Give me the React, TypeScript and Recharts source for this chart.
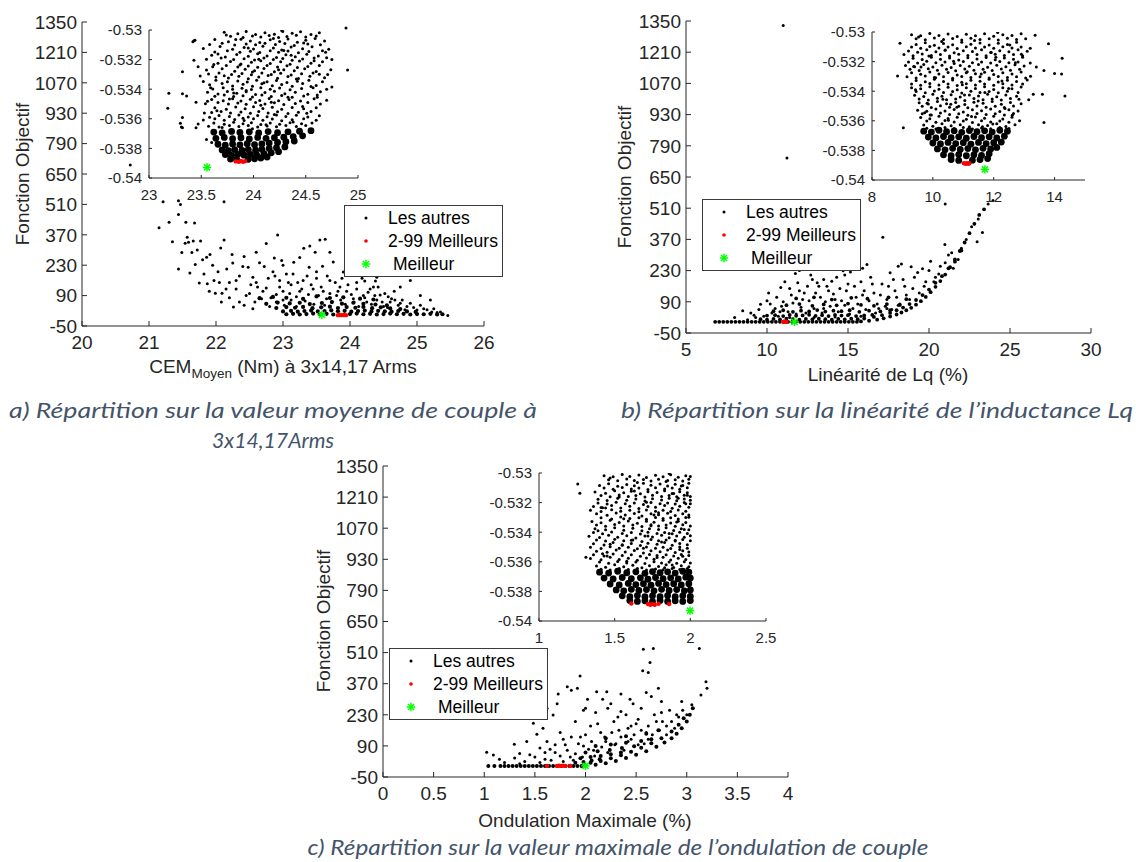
import React from 'react';
import { ScatterChart, Scatter, XAxis, YAxis } from 'recharts';

type Pt = [number, number];

const FONT = '"Liberation Sans", Arial, Helvetica, sans-serif';
const CAPFONT = 'Lato, "Open Sans", "Noto Sans", sans-serif';
const AX = '#262626';

// ---------- ticks & labels ----------
const mainYTicks = [-50, 90, 230, 370, 510, 650, 790, 930, 1070, 1210, 1350];
const insetYTicks = [-0.54, -0.538, -0.536, -0.534, -0.532, -0.53];
const aXTicks = [20, 21, 22, 23, 24, 25, 26];
const bXTicks = [5, 10, 15, 20, 25, 30];
const cXTicks = [0, 0.5, 1, 1.5, 2, 2.5, 3, 3.5, 4];
const aInsetXTicks = [23, 23.5, 24, 24.5, 25];
const bInsetXTicks = [8, 10, 12, 14];
const cInsetXTicks = [1, 1.5, 2, 2.5];
const legendLabels = ['Les autres', '2-99 Meilleurs', 'Meilleur'];
const yLabel = 'Fonction Objectif';
const captions = [
  'a) Répartition sur la valeur moyenne de couple à',
  '3x14,17Arms',
  'b) Répartition sur la linéarité de l’inductance Lq',
  'c) Répartition sur la valeur maximale de l’ondulation de couple',
];

// ---------- (a) main ----------
const aOthers: Pt[] = [
  [20.72, 691], [21.15, 403], [21.21, 522], [21.3, 428], [21.35, 338], [21.44, 527], [21.44, 464], [21.47, 510], [21.44, 212], [21.49, 289],
  [21.54, 331], [21.55, 428], [21.57, 359], [21.59, 336], [21.61, 194], [21.64, 289], [21.66, 341], [21.68, 424], [21.69, 233], [21.72, 300],
  [21.77, 341], [21.75, 148], [21.8, 255], [21.86, 267], [21.87, 145], [21.91, 279], [21.95, 230], [21.97, 159], [21.99, 101], [22.03, 200],
  [22.07, 309], [22.09, 101], [22.12, 346], [22.12, 522], [22.08, 60], [22.16, 212], [22.2, 150], [22.24, 279], [22.26, 37], [22.3, 120],
  [22.35, 180], [22.4, 224], [22.45, 90], [22.48, 220], [22.52, 140], [22.58, 60], [22.65, 241], [22.7, 110], [22.72, 224], [22.78, 170],
  [22.82, 80], [22.87, 263], [22.92, 369], [22.95, 130], [22.98, 252], [23.05, 190], [23.1, 100], [23.16, 244], [23.22, 150], [23.31, 308],
  [23.36, 180], [23.39, 220], [23.45, 120], [23.5, 200], [23.55, 346], [23.59, 225], [23.63, 350], [23.4, 318], [23.7, 160], [23.75, 245],
  [23.85, 130], [23.9, 199], [24.0, 185], [24.07, 208], [24.22, 157], [24.38, 157], [24.35, 130], [24.45, 93], [24.57, 85], [24.67, 70],
  [24.1, 150], [24.2, 90], [24.3, 120], [24.4, 70], [24.6, 60], [24.75, 55], [24.85, 40], [25.0, 24], [25.1, 30], [25.22, 15],
  [25.3, 12], [25.46, -2], [23.94, 1322], [22.55, 175], [22.62, 130], [22.9, 95], [23.0, 70], [23.2, 85], [23.28, 120], [23.6, 110],
  [23.8, 90], [23.65, 75], [23.95, 110], [24.05, 75], [24.25, 60], [24.5, 40], [24.15, 210], [23.0, 230], [22.3, 160], [22.42, 270],
  [22.88, 180], [23.12, 140],
];
const aOthersMore: Pt[] = [
  [22.35, 60], [22.42, 45], [22.5, 100], [22.55, 30], [22.6, 150], [22.68, 75], [22.75, 125], [22.8, 40], [22.85, 200], [22.9, 60],
  [22.95, 160], [23.0, 110], [23.02, 45], [23.08, 150], [23.12, 70], [23.15, 190], [23.2, 40], [23.25, 110], [23.3, 160], [23.33, 65],
  [23.38, 95], [23.42, 140], [23.46, 50], [23.5, 170], [23.53, 90], [23.57, 130], [23.62, 45], [23.66, 180], [23.7, 100], [23.73, 60],
  [23.78, 150], [23.82, 110], [23.86, 70], [23.88, 170], [23.93, 50], [23.97, 140], [24.02, 95], [24.06, 60], [24.1, 120], [24.13, 40],
  [24.18, 170], [24.22, 80], [24.27, 105], [24.32, 50], [24.37, 90], [24.42, 130], [24.48, 60], [24.52, 100], [24.56, 35], [24.62, 75],
  [24.66, 110], [24.72, 45], [24.78, 70], [24.82, 25], [24.9, 55], [24.95, 35], [25.05, 45], [25.15, 25], [25.25, 30], [25.35, 15],
  [22.2, 80], [22.15, 120], [22.05, 150], [21.9, 110], [21.82, 190], [22.25, 240], [22.6, 290], [22.75, 330], [23.25, 265], [23.48, 290],
  [23.7, 290], [24.28, 230], [24.55, 190], [24.9, 160], [25.05, 90], [25.2, 70], [24.4, 175], [24.75, 130],
];
const aDense: Pt[] = [
  [23.05, 4], [23.15, 6], [23.25, 3], [23.35, 5], [23.45, 7], [23.55, 4], [23.65, 6], [23.75, 3], [24.0, 5], [24.1, 7], [24.2, 4], [24.3, 6],
  [24.4, 3], [24.5, 5], [24.6, 7], [24.7, 4], [24.8, 6], [24.9, 3], [25.0, 5], [25.1, 4], [25.2, 6], [25.3, 3], [25.38, 4],
  [23.0, 17], [23.12, 20], [23.22, 16], [23.32, 19], [23.42, 21], [23.52, 17], [23.62, 19], [23.72, 22], [23.82, 18], [23.92, 20], [24.02, 16],
  [24.12, 19], [24.22, 21], [24.32, 17], [24.42, 20], [24.52, 18], [24.62, 16], [24.72, 19], [24.85, 17], [24.98, 15],
  [22.9, 33], [23.05, 37], [23.18, 34], [23.3, 38], [23.44, 32], [23.57, 36], [23.7, 39], [23.82, 33], [23.95, 37], [24.08, 34], [24.2, 38],
  [24.33, 32], [24.46, 36], [24.6, 31], [24.75, 28],
  [22.75, 52], [22.92, 58], [23.1, 54], [23.25, 57], [23.4, 51], [23.58, 56], [23.73, 60], [23.88, 53], [24.05, 57], [24.2, 52], [24.38, 49], [24.55, 45],
  [22.65, 78], [22.85, 84], [23.05, 80], [23.3, 75], [23.5, 86], [23.7, 79], [23.9, 82], [24.15, 76], [24.35, 72],
];
const aBest99: Pt[] = [[23.82, 0], [23.85, 1], [23.88, 0], [23.91, 1], [23.94, 0]];
const aBest: Pt[] = [[23.58, 1]];

// ---------- (a) inset ----------
const aInsetOthers: Pt[] = [
  [23.72, -0.53015], [23.85, -0.53025], [23.93, -0.5301], [24.02, -0.5303], [24.11, -0.53018], [24.2, -0.53028], [24.28, -0.5301], [24.37, -0.53022], [24.45, -0.53012], [24.55, -0.5303], [24.63, -0.53018],
  [23.43, -0.53072], [23.63, -0.53065], [23.76, -0.5308], [23.88, -0.53062], [23.97, -0.53075], [24.06, -0.53085], [24.16, -0.53066], [24.25, -0.53078], [24.33, -0.5306], [24.42, -0.53082], [24.5, -0.5307], [24.59, -0.53058], [24.68, -0.53074],
  [23.52, -0.53125], [23.68, -0.53112], [23.8, -0.5313], [23.91, -0.53118], [24.0, -0.53128], [24.09, -0.5311], [24.19, -0.53122], [24.27, -0.53135], [24.36, -0.53115], [24.47, -0.53127], [24.56, -0.53113], [24.72, -0.5313],
  [23.6, -0.5317], [23.73, -0.53182], [23.84, -0.53165], [23.95, -0.53178], [24.04, -0.5316], [24.13, -0.53175], [24.22, -0.53185], [24.31, -0.53168], [24.4, -0.5318], [24.51, -0.53164], [24.62, -0.53176], [24.7, -0.53188],
  [23.43, -0.53205], [23.66, -0.53225], [23.78, -0.53212], [23.88, -0.5323], [23.98, -0.53218], [24.07, -0.53208], [24.16, -0.53226], [24.26, -0.53214], [24.35, -0.53232], [24.44, -0.5321], [24.55, -0.53224], [24.66, -0.53215],
  [23.47, -0.53248], [23.55, -0.5327], [23.7, -0.53262], [23.82, -0.53278], [23.92, -0.53265], [24.01, -0.53275], [24.1, -0.5326], [24.2, -0.53282], [24.29, -0.53268], [24.39, -0.53276], [24.49, -0.53262], [24.6, -0.5328], [24.74, -0.53268], [24.9, -0.5327],
  [23.32, -0.53282], [23.49, -0.5331], [23.64, -0.53318], [23.76, -0.53325], [23.86, -0.53312], [23.95, -0.5333], [24.05, -0.53318], [24.14, -0.53308], [24.23, -0.53326], [24.33, -0.53315], [24.43, -0.53328], [24.54, -0.53312], [24.68, -0.53322],
  [23.58, -0.5337], [23.7, -0.53362], [23.8, -0.53378], [23.9, -0.53366], [23.99, -0.5338], [24.08, -0.53364], [24.18, -0.53376], [24.27, -0.53368], [24.37, -0.5338], [24.47, -0.53362], [24.6, -0.53375], [24.75, -0.53385],
  [23.19, -0.53428], [23.56, -0.5342], [23.66, -0.53432], [23.75, -0.53415], [23.84, -0.53428], [23.93, -0.53418], [24.02, -0.53435], [24.11, -0.53422], [24.2, -0.53414], [24.3, -0.5343], [24.4, -0.5342], [24.52, -0.53434], [24.64, -0.53418],
  [23.36, -0.53446], [23.6, -0.5347], [23.71, -0.53478], [23.8, -0.53465], [23.88, -0.5348], [23.97, -0.53468], [24.06, -0.53476], [24.15, -0.53462], [24.24, -0.53478], [24.34, -0.5347], [24.45, -0.5348], [24.58, -0.53465], [24.7, -0.53474],
  [23.18, -0.53529], [23.45, -0.53489], [23.63, -0.53525], [23.74, -0.53535], [23.83, -0.5352], [23.92, -0.53532], [24.0, -0.53518], [24.09, -0.5353], [24.18, -0.53522], [24.27, -0.53536], [24.37, -0.53524], [24.48, -0.53532], [24.6, -0.53526],
  [23.58, -0.5359], [23.67, -0.53578], [23.77, -0.53585], [23.86, -0.53575], [23.95, -0.53588], [24.04, -0.53578], [24.13, -0.53586], [24.22, -0.53574], [24.31, -0.53584], [24.41, -0.53576], [24.52, -0.53588], [24.63, -0.5358],
  [23.3, -0.5363], [23.47, -0.53635], [23.62, -0.53628], [23.72, -0.53636], [23.81, -0.53624], [23.9, -0.53634], [23.98, -0.53626], [24.07, -0.53638], [24.16, -0.53628], [24.25, -0.53636], [24.35, -0.53626], [24.46, -0.53634], [24.56, -0.53628],
  [23.32, -0.5366], [23.45, -0.5366], [23.31, -0.53655], [23.32, -0.53591], [23.32, -0.5343], [23.42, -0.53079], [23.44, -0.5307], [23.55, -0.5374], [23.6, -0.5376],
];
const aInsetOthersMore: Pt[] = [
  [23.78, -0.53042], [23.9, -0.5305], [23.99, -0.5304], [24.07, -0.53048], [24.15, -0.53038], [24.24, -0.5305], [24.32, -0.53044], [24.41, -0.53036], [24.5, -0.53048], [24.6, -0.5304],
  [23.58, -0.53098], [23.7, -0.5309], [23.82, -0.53102], [23.93, -0.53094], [24.02, -0.531], [24.11, -0.5309], [24.21, -0.53098], [24.3, -0.53092], [24.39, -0.53104], [24.52, -0.53094], [24.64, -0.531],
  [23.63, -0.53148], [23.75, -0.5314], [23.87, -0.5315], [23.97, -0.53144], [24.06, -0.53152], [24.16, -0.5314], [24.24, -0.5315], [24.33, -0.53142], [24.43, -0.53154], [24.53, -0.53146], [24.66, -0.5314],
  [23.55, -0.53198], [23.69, -0.5319], [23.81, -0.532], [23.91, -0.53194], [24.01, -0.53202], [24.1, -0.5319], [24.19, -0.532], [24.28, -0.53192], [24.37, -0.53204], [24.47, -0.53196], [24.58, -0.5319], [24.75, -0.532],
  [23.61, -0.53248], [23.74, -0.5324], [23.85, -0.5325], [23.95, -0.53244], [24.04, -0.53252], [24.13, -0.5324], [24.23, -0.5325], [24.32, -0.53242], [24.42, -0.53254], [24.52, -0.53246], [24.63, -0.5324],
  [23.57, -0.53298], [23.67, -0.5329], [23.79, -0.533], [23.89, -0.53294], [23.98, -0.53302], [24.08, -0.5329], [24.17, -0.533], [24.26, -0.53292], [24.36, -0.53304], [24.46, -0.53296], [24.57, -0.5329], [24.71, -0.533],
  [23.52, -0.53348], [23.64, -0.5334], [23.75, -0.5335], [23.85, -0.53344], [23.94, -0.53352], [24.03, -0.5334], [24.13, -0.5335], [24.22, -0.53342], [24.32, -0.53354], [24.42, -0.53346], [24.53, -0.5334], [24.66, -0.5335],
  [23.61, -0.53398], [23.71, -0.5339], [23.8, -0.534], [23.89, -0.53394], [23.98, -0.53402], [24.07, -0.5339], [24.16, -0.534], [24.25, -0.53392], [24.35, -0.53404], [24.46, -0.53396], [24.57, -0.5339], [24.7, -0.534],
  [23.63, -0.53448], [23.72, -0.5344], [23.81, -0.5345], [23.9, -0.53444], [23.99, -0.53452], [24.08, -0.5344], [24.17, -0.5345], [24.27, -0.53442], [24.37, -0.53454], [24.48, -0.53446], [24.61, -0.5344],
  [23.54, -0.53498], [23.66, -0.5349], [23.76, -0.535], [23.85, -0.53494], [23.93, -0.53502], [24.02, -0.5349], [24.11, -0.535], [24.2, -0.53492], [24.29, -0.53504], [24.4, -0.53496], [24.52, -0.5349], [24.64, -0.535],
  [23.6, -0.53558], [23.69, -0.5355], [23.78, -0.5356], [23.88, -0.53554], [23.97, -0.53562], [24.05, -0.5355], [24.14, -0.5356], [24.23, -0.53552], [24.33, -0.53564], [24.43, -0.53556], [24.55, -0.5355],
  [23.52, -0.53608], [23.63, -0.536], [23.72, -0.5361], [23.82, -0.53604], [23.91, -0.53612], [24.0, -0.536], [24.09, -0.5361], [24.18, -0.53602], [24.27, -0.53614], [24.37, -0.53606], [24.48, -0.536], [24.6, -0.5361],
  [23.57, -0.5365], [23.67, -0.53655], [23.77, -0.53646], [23.86, -0.53652], [23.95, -0.53645], [24.04, -0.53656], [24.13, -0.53648], [24.22, -0.53654], [24.31, -0.53646], [24.41, -0.53652], [24.5, -0.53645],
];
const aInsetOthersExtra: Pt[] = [
  [23.74, -0.53033], [24.19, -0.53057], [23.95, -0.53121], [24.48, -0.53088], [23.66, -0.53163], [24.29, -0.53139], [24.05, -0.53197], [23.87, -0.53236],
  [24.58, -0.53207], [24.24, -0.53268], [23.72, -0.53309], [24.41, -0.53331], [24.1, -0.53357], [23.59, -0.53391], [23.93, -0.53409], [24.55, -0.53381],
  [24.33, -0.53455], [23.77, -0.53467], [24.07, -0.53508], [23.65, -0.53545], [24.47, -0.53517], [24.2, -0.53571], [23.9, -0.53596], [24.38, -0.53622],
  [23.7, -0.53659], [24.12, -0.53641], [23.83, -0.53064], [24.36, -0.53171], [23.99, -0.53283], [24.63, -0.53299], [23.81, -0.53426], [24.17, -0.53489],
  [23.56, -0.53482], [24.51, -0.53563], [23.99, -0.53667], [24.27, -0.53003], [23.62, -0.53233], [24.69, -0.53151], [23.53, -0.53561], [24.61, -0.53455],
];
const aInsetDense: Pt[] = [
  [23.62, -0.5369], [23.7, -0.53695], [23.79, -0.53685], [23.87, -0.53692], [23.96, -0.53688], [24.05, -0.53696], [24.14, -0.53686], [24.23, -0.53694], [24.33, -0.53688], [24.44, -0.53684], [24.55, -0.5368],
  [23.64, -0.53732], [23.72, -0.53726], [23.8, -0.53734], [23.88, -0.53728], [23.96, -0.53736], [24.04, -0.53726], [24.12, -0.53732], [24.2, -0.53728], [24.29, -0.53724], [24.38, -0.5372], [24.47, -0.53715],
  [23.66, -0.53772], [23.73, -0.53778], [23.8, -0.5377], [23.87, -0.53776], [23.94, -0.53768], [24.01, -0.53775], [24.08, -0.5377], [24.15, -0.53764], [24.23, -0.5376], [24.31, -0.53755], [24.39, -0.5375],
  [23.7, -0.5381], [23.76, -0.53815], [23.82, -0.53808], [23.89, -0.53814], [23.95, -0.53808], [24.02, -0.53812], [24.08, -0.53806], [24.15, -0.538], [24.22, -0.53795], [24.3, -0.5379],
  [23.73, -0.53842], [23.79, -0.53848], [23.85, -0.5384], [23.91, -0.53846], [23.97, -0.5384], [24.03, -0.53844], [24.1, -0.53836], [24.17, -0.5383], [24.24, -0.53822],
  [23.78, -0.53872], [23.84, -0.53876], [23.95, -0.53874], [24.01, -0.5387], [24.07, -0.53865], [24.13, -0.53858],
];
const aInsetBest99: Pt[] = [[23.83, -0.53888], [23.86, -0.5389], [23.88, -0.53885], [23.9, -0.5389], [23.92, -0.53886]];
const aInsetBest: Pt[] = [[23.555, -0.53928]];

// ---------- (b) main ----------
const bOthers: Pt[] = [
  [11.0, 1330], [11.23, 735], [17.15, 380], [21.0, 529], [23.65, 529], [23.95, 545], [23.04, 461], [22.63, 427], [22.8, 440], [23.3, 401],
  [20.98, 347], [22.97, 359], [16.17, 257], [18.1, 250], [18.9, 247], [19.3, 222], [19.6, 238], [20.1, 272], [20.6, 215], [11.69, 254],
  [11.75, 217], [10.85, 154], [9.6, 79], [14.7, 229], [15.15, 224], [13.5, 190], [14.0, 182], [12.5, 160], [13.0, 130], [15.8, 180],
  [16.5, 170], [17.0, 120], [17.5, 160], [18.4, 190], [19.0, 150], [12.2, 100], [11.5, 120], [10.5, 60], [9.0, 40], [8.5, 50],
  [8.0, 20], [14.2, 100], [15.5, 110], [16.0, 140], [16.8, 80], [18.0, 110], [17.8, 190], [20.4, 200], [21.5, 240], [12.8, 190],
  [13.2, 160], [13.8, 140], [14.5, 150], [15.0, 170], [12.0, 140], [10.2, 80], [11.0, 90], [13.6, 90], [14.8, 75], [15.3, 60],
  [16.3, 95], [17.3, 70], [18.6, 120], [19.8, 180], [21.2, 300], [22.0, 330], [22.3, 370], [21.8, 280], [9.3, 20], [8.8, 10],
];
const bOthersMore: Pt[] = [
  [9.2, 30], [9.5, 55], [9.8, 25], [10.0, 95], [10.3, 40], [10.6, 110], [10.7, 25], [10.9, 70], [11.1, 180], [11.3, 45],
  [11.4, 150], [11.6, 85], [11.8, 35], [11.9, 175], [12.1, 65], [12.3, 130], [12.4, 40], [12.6, 95], [12.7, 210], [12.9, 60],
  [13.1, 175], [13.3, 110], [13.4, 40], [13.7, 160], [13.9, 70], [14.1, 125], [14.3, 200], [14.4, 45], [14.6, 95], [14.9, 140],
  [15.1, 35], [15.4, 160], [15.6, 80], [15.9, 120], [16.1, 55], [16.4, 200], [16.6, 130], [16.9, 60], [17.1, 170], [17.4, 100],
  [17.7, 55], [17.9, 140], [18.2, 80], [18.5, 160], [18.8, 100], [19.1, 200], [19.4, 130], [19.7, 160], [20.0, 230], [20.3, 180],
  [20.7, 250], [21.0, 265], [21.4, 310], [10.1, 130], [12.0, 230], [13.0, 255], [14.8, 210], [15.9, 240], [17.6, 220], [18.3, 260],
  [11.4, 20], [12.9, 20], [14.2, 22], [15.8, 25], [16.7, 40], [17.4, 60], [18.1, 75], [13.5, 60], [10.8, 45],
];
const bDense: Pt[] = [
  [15.8, 2], [16.3, 5], [16.8, 10], [17.2, 16], [17.6, 24], [18.0, 33], [18.3, 42], [18.6, 52], [18.9, 63], [19.2, 77], [19.5, 93], [19.8, 112],
  [20.1, 133], [20.4, 157], [20.7, 183], [21.0, 212], [21.3, 245], [21.6, 280], [21.9, 318], [22.2, 356], [22.5, 398], [22.8, 440], [23.1, 480], [23.4, 505],
  [16.0, 15], [16.6, 22], [17.1, 30], [17.6, 40], [18.0, 52], [18.4, 64], [18.8, 80], [19.2, 98], [19.6, 120], [20.0, 145], [20.4, 175], [20.8, 205],
  [21.2, 240], [21.6, 270], [22.0, 320],
  [6.8, 0], [7.05, 0], [7.3, 0], [7.55, 0], [7.8, 0], [8.05, 0], [8.3, 0], [8.55, 0], [8.8, 0], [9.05, 0], [9.3, 0], [9.55, 0], [9.8, 0],
  [10.05, 0], [10.3, 0], [10.55, 0], [10.8, 0], [11.3, 0], [11.55, 0], [11.8, 0], [12.05, 0], [12.3, 0], [12.55, 0], [12.8, 0], [13.05, 0],
  [13.3, 0], [13.55, 0], [13.8, 0], [14.05, 0], [14.3, 0], [14.55, 0], [14.8, 0], [15.05, 0], [15.3, 0], [15.55, 0],
  [9.6, 12], [10.0, 10], [10.4, 13], [10.8, 11], [11.2, 14], [11.6, 12], [12.0, 10], [12.4, 13], [12.8, 11], [13.2, 14], [13.6, 12], [14.0, 10],
  [14.4, 13], [14.8, 11], [15.2, 14], [15.6, 12],
  [10.0, 28], [10.5, 30], [11.0, 26], [11.4, 31], [11.8, 27], [12.2, 29], [12.6, 32], [13.0, 27], [13.4, 30], [13.8, 26], [14.2, 31], [14.6, 28],
  [15.0, 30], [15.5, 26], [16.0, 29], [16.5, 31],
  [10.4, 48], [11.0, 52], [11.6, 45], [12.1, 50], [12.6, 47], [13.1, 53], [13.6, 46], [14.1, 50], [14.6, 48], [15.1, 52], [15.7, 45], [16.3, 50],
  [17.0, 47], [17.6, 52],
  [11.2, 75], [12.0, 80], [12.8, 72], [13.5, 78], [14.3, 74], [15.0, 82], [15.8, 76], [16.6, 72], [17.4, 80], [18.2, 76],
  [11.8, 105], [12.9, 110], [14.0, 100], [15.2, 108], [16.2, 104], [17.5, 110], [18.6, 102],
];
const bBest99: Pt[] = [[11.0, 0], [11.05, 1], [11.1, 0], [11.15, 1], [11.2, 0]];
const bBest: Pt[] = [[11.69, 0]];

// ---------- (b) inset ----------
const bInsetOthers: Pt[] = [
  [9.3, -0.53018], [9.6, -0.53026], [9.9, -0.5301], [10.2, -0.53024], [10.5, -0.53014], [10.8, -0.5303], [11.1, -0.53016], [11.4, -0.53026], [11.7, -0.53012], [12.0, -0.53028], [12.3, -0.53018], [12.6, -0.53024], [12.9, -0.53012], [13.36, -0.53022],
  [8.92, -0.53076], [9.45, -0.53084], [9.75, -0.53072], [10.05, -0.5309], [10.35, -0.53078], [10.65, -0.53086], [10.95, -0.5307], [11.25, -0.53082], [11.55, -0.53074], [11.85, -0.53088], [12.15, -0.53076], [12.45, -0.53084], [12.75, -0.5307], [13.8, -0.5308],
  [9.2, -0.53128], [9.5, -0.53136], [9.8, -0.5312], [10.1, -0.53134], [10.4, -0.53124], [10.7, -0.5314], [11.0, -0.53126], [11.3, -0.53132], [11.6, -0.5312], [11.9, -0.53138], [12.2, -0.53126], [12.5, -0.53134], [12.8, -0.5312], [13.1, -0.5313], [14.25, -0.53178],
  [9.35, -0.53178], [9.65, -0.53186], [9.95, -0.5317], [10.25, -0.53184], [10.55, -0.53176], [10.85, -0.5319], [11.15, -0.53174], [11.45, -0.53182], [11.75, -0.53172], [12.05, -0.53188], [12.35, -0.53176], [12.65, -0.53184], [12.95, -0.5317],
  [9.1, -0.53226], [9.4, -0.53234], [9.7, -0.5322], [10.0, -0.53236], [10.3, -0.53224], [10.6, -0.5324], [10.9, -0.53226], [11.2, -0.53232], [11.5, -0.5322], [11.8, -0.53238], [12.1, -0.53224], [12.4, -0.53234], [12.7, -0.53222], [13.0, -0.5323], [13.4, -0.53236],
  [8.84, -0.53297], [9.3, -0.53276], [9.6, -0.53286], [9.9, -0.5327], [10.2, -0.53284], [10.5, -0.53274], [10.8, -0.5329], [11.1, -0.53276], [11.4, -0.53282], [11.7, -0.53272], [12.0, -0.53288], [12.3, -0.53276], [12.6, -0.53284], [12.9, -0.5327], [13.65, -0.5326], [14.0, -0.5328], [14.23, -0.53284],
  [9.45, -0.53328], [9.75, -0.53336], [10.05, -0.5332], [10.35, -0.53334], [10.65, -0.53324], [10.95, -0.5334], [11.25, -0.53326], [11.55, -0.53332], [11.85, -0.5332], [12.15, -0.53338], [12.45, -0.53326], [12.75, -0.53334], [13.1, -0.53324],
  [9.3, -0.53376], [9.6, -0.53384], [9.9, -0.5337], [10.2, -0.53386], [10.5, -0.53374], [10.8, -0.5339], [11.1, -0.53376], [11.4, -0.53382], [11.7, -0.5337], [12.0, -0.53388], [12.3, -0.53376], [12.6, -0.53384], [12.9, -0.53372],
  [9.4, -0.53428], [9.7, -0.53436], [10.0, -0.5342], [10.3, -0.53434], [10.6, -0.53424], [10.9, -0.5344], [11.2, -0.53426], [11.5, -0.53432], [11.8, -0.5342], [12.1, -0.53438], [12.4, -0.53426], [12.75, -0.53434], [13.3, -0.5342], [13.6, -0.5342], [14.34, -0.53432],
  [9.55, -0.53478], [9.85, -0.53486], [10.15, -0.5347], [10.45, -0.53484], [10.75, -0.53476], [11.05, -0.5349], [11.35, -0.53474], [11.65, -0.53482], [11.95, -0.5347], [12.25, -0.53488], [12.55, -0.53476], [12.9, -0.53484],
  [9.5, -0.53528], [9.8, -0.53536], [10.1, -0.5352], [10.4, -0.53534], [10.7, -0.53524], [11.0, -0.5354], [11.3, -0.53526], [11.6, -0.53532], [11.9, -0.5352], [12.2, -0.53538], [12.5, -0.53526], [12.8, -0.53534],
  [9.6, -0.53578], [9.9, -0.53586], [10.2, -0.5357], [10.5, -0.53584], [10.8, -0.53576], [11.1, -0.5359], [11.4, -0.53574], [11.7, -0.53582], [12.0, -0.5357], [12.3, -0.53588], [12.6, -0.53576], [13.65, -0.53612],
  [9.03, -0.53647], [9.7, -0.53628], [10.0, -0.53636], [10.3, -0.5362], [10.6, -0.53634], [10.9, -0.53626], [11.2, -0.5364], [11.5, -0.53626], [11.8, -0.53632], [12.1, -0.5362], [12.4, -0.53638], [12.7, -0.53626],
];
const bInsetOthersMore: Pt[] = [
  [9.45, -0.53045], [9.75, -0.53052], [10.05, -0.5304], [10.35, -0.5305], [10.65, -0.53044], [10.95, -0.53054], [11.25, -0.53042], [11.55, -0.5305], [11.85, -0.53046], [12.15, -0.53054], [12.45, -0.53042], [12.75, -0.5305], [13.05, -0.53046],
  [9.3, -0.53102], [9.6, -0.5311], [9.9, -0.53098], [10.2, -0.53108], [10.5, -0.53102], [10.8, -0.53112], [11.1, -0.531], [11.4, -0.53108], [11.7, -0.53102], [12.0, -0.5311], [12.3, -0.531], [12.6, -0.53108], [12.9, -0.53102], [13.2, -0.5311],
  [9.05, -0.53152], [9.35, -0.5316], [9.65, -0.53148], [9.95, -0.53158], [10.25, -0.53152], [10.55, -0.53162], [10.85, -0.5315], [11.15, -0.53158], [11.45, -0.53152], [11.75, -0.5316], [12.05, -0.5315], [12.35, -0.53158], [12.65, -0.53152], [12.95, -0.5316],
  [9.2, -0.53202], [9.5, -0.5321], [9.8, -0.53198], [10.1, -0.53208], [10.4, -0.53202], [10.7, -0.53212], [11.0, -0.532], [11.3, -0.53208], [11.6, -0.53202], [11.9, -0.5321], [12.2, -0.532], [12.5, -0.53208], [12.8, -0.53202], [13.2, -0.5321],
  [9.25, -0.53252], [9.55, -0.5326], [9.85, -0.53248], [10.15, -0.53258], [10.45, -0.53252], [10.75, -0.53262], [11.05, -0.5325], [11.35, -0.53258], [11.65, -0.53252], [11.95, -0.5326], [12.25, -0.5325], [12.55, -0.53258], [12.85, -0.53252],
  [9.15, -0.53302], [9.45, -0.5331], [9.75, -0.53298], [10.05, -0.53308], [10.35, -0.53302], [10.65, -0.53312], [10.95, -0.533], [11.25, -0.53308], [11.55, -0.53302], [11.85, -0.5331], [12.15, -0.533], [12.45, -0.53308], [12.75, -0.53302], [13.05, -0.5331],
  [9.3, -0.53352], [9.6, -0.5336], [9.9, -0.53348], [10.2, -0.53358], [10.5, -0.53352], [10.8, -0.53362], [11.1, -0.5335], [11.4, -0.53358], [11.7, -0.53352], [12.0, -0.5336], [12.3, -0.5335], [12.6, -0.53358], [12.95, -0.53352],
  [9.45, -0.53402], [9.75, -0.5341], [10.05, -0.53398], [10.35, -0.53408], [10.65, -0.53402], [10.95, -0.53412], [11.25, -0.534], [11.55, -0.53408], [11.85, -0.53402], [12.15, -0.5341], [12.45, -0.534], [12.8, -0.53408],
  [9.55, -0.53452], [9.85, -0.5346], [10.15, -0.53448], [10.45, -0.53458], [10.75, -0.53452], [11.05, -0.53462], [11.35, -0.5345], [11.65, -0.53458], [11.95, -0.53452], [12.25, -0.5346], [12.55, -0.5345], [13.15, -0.53458],
  [9.65, -0.53502], [9.95, -0.5351], [10.25, -0.53498], [10.55, -0.53508], [10.85, -0.53502], [11.15, -0.53512], [11.45, -0.535], [11.75, -0.53508], [12.05, -0.53502], [12.35, -0.5351], [12.65, -0.535],
  [9.65, -0.53552], [9.95, -0.5356], [10.25, -0.53548], [10.55, -0.53558], [10.85, -0.53552], [11.15, -0.53562], [11.45, -0.5355], [11.75, -0.53558], [12.05, -0.53552], [12.35, -0.5356], [12.65, -0.5355],
  [9.8, -0.53602], [10.1, -0.5361], [10.4, -0.53598], [10.7, -0.53608], [11.0, -0.53602], [11.3, -0.53612], [11.6, -0.536], [11.9, -0.53608], [12.2, -0.53602], [12.5, -0.5361], [12.85, -0.536],
  [9.8, -0.5365], [10.1, -0.53655], [10.4, -0.53646], [10.7, -0.53652], [11.0, -0.53645], [11.3, -0.53656], [11.6, -0.53648], [11.9, -0.53654], [12.2, -0.53646], [12.5, -0.53652],
];
const bInsetOthersExtra: Pt[] = [
  [9.53, -0.53033], [11.37, -0.53057], [10.41, -0.53121], [12.53, -0.53088], [9.87, -0.53163], [11.92, -0.53139], [10.68, -0.53197], [9.61, -0.53236],
  [12.71, -0.53207], [11.13, -0.53268], [10.09, -0.53309], [12.27, -0.53331], [10.97, -0.53357], [9.43, -0.53391], [11.71, -0.53409], [12.49, -0.53381],
  [10.33, -0.53455], [11.49, -0.53467], [10.79, -0.53508], [9.73, -0.53545], [12.37, -0.53517], [11.27, -0.53571], [10.51, -0.53596], [11.97, -0.53622],
  [10.21, -0.53659], [11.63, -0.53641], [10.29, -0.53064], [12.07, -0.53171], [11.59, -0.53283], [13.21, -0.53299], [11.04, -0.53426], [10.59, -0.53489],
  [9.81, -0.53482], [12.61, -0.53563], [11.41, -0.53667], [12.13, -0.53003], [9.37, -0.53233], [12.91, -0.53151], [9.91, -0.53561], [12.83, -0.53455],
];
const bInsetDense: Pt[] = [
  [9.7, -0.5367], [9.95, -0.53676], [10.2, -0.53664], [10.45, -0.53674], [10.7, -0.53668], [10.95, -0.53678], [11.2, -0.53666], [11.45, -0.53674], [11.7, -0.53668], [11.95, -0.53676], [12.2, -0.53664], [12.45, -0.5367],
  [9.85, -0.5371], [10.1, -0.53716], [10.35, -0.53706], [10.6, -0.53714], [10.85, -0.53708], [11.1, -0.53718], [11.35, -0.53706], [11.6, -0.53714], [11.85, -0.53708], [12.1, -0.53716], [12.35, -0.53704],
  [10.0, -0.5375], [10.25, -0.53756], [10.5, -0.53746], [10.75, -0.53754], [11.0, -0.53748], [11.25, -0.53758], [11.5, -0.53746], [11.75, -0.53754], [12.0, -0.53748], [12.25, -0.53744],
  [10.15, -0.5379], [10.4, -0.53796], [10.65, -0.53786], [10.9, -0.53794], [11.15, -0.53788], [11.4, -0.53796], [11.65, -0.53786], [11.9, -0.5379], [12.1, -0.5378],
  [10.35, -0.5383], [10.6, -0.53836], [10.85, -0.53828], [11.1, -0.53836], [11.35, -0.5383], [11.6, -0.53834], [11.85, -0.53822],
  [10.6, -0.53862], [10.85, -0.53868], [11.3, -0.53866], [11.55, -0.53862], [11.8, -0.53855],
];
const bInsetBest99: Pt[] = [[11.02, -0.53886], [11.07, -0.5389], [11.12, -0.53887], [11.17, -0.5389], [11.2, -0.53886]];
const bInsetBest: Pt[] = [[11.71, -0.53928]];

// ---------- (c) main ----------
const cOthers: Pt[] = [
  [2.571, 525], [2.67, 529], [3.124, 529], [2.637, 465], [2.565, 428], [2.62, 420], [3.19, 379], [3.2, 349], [3.14, 319], [2.72, 349],
  [2.65, 312], [1.946, 405], [1.82, 356], [1.86, 340], [1.92, 350], [1.73, 324], [2.11, 334], [2.21, 334], [2.35, 324], [2.17, 300],
  [2.25, 280], [1.68, 229], [1.485, 192], [1.52, 142], [1.297, 97], [1.024, 61], [1.09, 49], [1.35, 56], [1.55, 80], [1.62, 110],
  [1.75, 150], [1.8, 95], [1.9, 200], [1.95, 130], [2.0, 260], [2.05, 180], [2.1, 240], [2.15, 150], [2.2, 110], [2.28, 200],
  [2.33, 160], [2.4, 230], [2.45, 120], [2.5, 190], [2.55, 260], [2.6, 150], [2.7, 200], [2.75, 240], [2.8, 180], [2.9, 230],
  [1.7, 60], [1.85, 40], [1.6, 30], [1.4, 20], [1.3, 35], [1.45, 50], [1.65, 75], [1.78, 120], [1.98, 90], [2.08, 70],
  [2.3, 100], [2.52, 95], [2.42, 170], [2.62, 120], [2.85, 200], [1.58, 170], [2.02, 300], [2.47, 280], [2.35, 245],
];
const cOthersMore: Pt[] = [
  [1.5, 40], [1.55, 15], [1.6, 60], [1.66, 25], [1.7, 95], [1.75, 45], [1.78, 20], [1.82, 70], [1.86, 130], [1.88, 25],
  [1.9, 55], [1.93, 100], [1.97, 40], [2.0, 140], [2.03, 75], [2.06, 110], [2.09, 45], [2.12, 190], [2.16, 85], [2.19, 130],
  [2.22, 60], [2.26, 150], [2.29, 95], [2.32, 220], [2.35, 130], [2.38, 70], [2.42, 110], [2.45, 180], [2.48, 140], [2.52, 210],
  [2.55, 160], [2.58, 100], [2.62, 180], [2.66, 140], [2.68, 230], [2.73, 160], [2.76, 200], [2.8, 140], [2.83, 250], [2.88, 170],
  [2.92, 220], [2.96, 250], [3.0, 230], [3.05, 275], [1.42, 110], [1.62, 260], [1.72, 280], [1.98, 250], [2.22, 260], [2.44, 300],
  [2.6, 330], [2.75, 290], [2.95, 290], [1.2, 15], [1.35, 10], [1.15, 30],
];
const cDense: Pt[] = [
  [2.0, 2], [2.1, 5], [2.2, 12], [2.3, 22], [2.4, 35], [2.5, 50], [2.6, 66], [2.7, 86], [2.78, 105], [2.85, 125], [2.9, 145], [2.95, 170],
  [3.0, 200], [3.03, 230], [3.06, 260],
  [2.05, 14], [2.15, 22], [2.25, 34], [2.35, 48], [2.45, 64], [2.55, 82], [2.65, 102], [2.75, 125], [2.85, 155], [2.92, 185], [2.97, 215],
  [1.04, 0], [1.1, 0], [1.16, 0], [1.2, 0], [1.24, 0], [1.28, 0], [1.32, 0], [1.36, 0], [1.4, 0], [1.44, 0], [1.48, 0], [1.52, 0],
  [1.56, 0], [1.6, 0], [1.64, 0], [1.68, 0], [1.72, 0], [1.76, 0], [1.8, 0], [1.84, 0], [1.88, 0], [1.92, 0], [1.96, 0],
  [1.9, 14], [1.98, 18], [2.06, 24], [2.14, 30], [1.95, 34], [2.05, 40], [2.15, 45], [2.25, 52], [2.35, 60], [2.0, 60], [2.12, 66], [2.24, 72],
  [2.36, 80], [2.48, 88], [2.1, 90], [2.25, 96], [2.4, 104], [2.55, 112], [2.65, 120], [2.2, 125], [2.4, 134], [2.6, 145], [2.72, 160],
];
const cBest99: Pt[] = [[1.62, 0], [1.72, 0], [1.74, 1], [1.76, 0], [1.78, 1], [1.8, 0], [1.85, 0]];
const cBest: Pt[] = [[2.0, 0]];

// ---------- (c) inset ----------
const cInsetOthers: Pt[] = [
  [1.43, -0.53018], [1.49, -0.53026], [1.55, -0.5301], [1.6, -0.53024], [1.66, -0.53014], [1.71, -0.5303], [1.77, -0.53016], [1.82, -0.53026], [1.87, -0.53012], [1.92, -0.53028], [1.97, -0.53018], [2.0, -0.53024],
  [1.256, -0.53074], [1.4, -0.53084], [1.46, -0.53072], [1.52, -0.5309], [1.58, -0.53078], [1.63, -0.53086], [1.69, -0.5307], [1.74, -0.53082], [1.8, -0.53074], [1.85, -0.53088], [1.9, -0.53076], [1.95, -0.53084], [1.99, -0.5307],
  [1.27, -0.53137], [1.37, -0.53128], [1.44, -0.53136], [1.5, -0.5312], [1.56, -0.53134], [1.61, -0.53124], [1.67, -0.5314], [1.72, -0.53126], [1.78, -0.53132], [1.83, -0.5312], [1.88, -0.53138], [1.93, -0.53126], [1.98, -0.53134],
  [1.39, -0.53178], [1.45, -0.53186], [1.52, -0.5317], [1.58, -0.53184], [1.64, -0.53176], [1.7, -0.5319], [1.75, -0.53174], [1.81, -0.53182], [1.86, -0.5317], [1.91, -0.53188], [1.96, -0.53176], [2.0, -0.53184],
  [1.36, -0.53226], [1.42, -0.53234], [1.48, -0.5322], [1.54, -0.53236], [1.6, -0.53224], [1.66, -0.5324], [1.72, -0.53226], [1.77, -0.53232], [1.83, -0.5322], [1.88, -0.53238], [1.93, -0.53224], [1.99, -0.53232],
  [1.38, -0.53276], [1.45, -0.53286], [1.51, -0.5327], [1.57, -0.53284], [1.63, -0.53274], [1.68, -0.5329], [1.74, -0.53276], [1.79, -0.53282], [1.85, -0.53272], [1.9, -0.53288], [1.95, -0.53276], [1.99, -0.53284],
  [1.35, -0.53328], [1.41, -0.53336], [1.47, -0.5332], [1.53, -0.53334], [1.59, -0.53324], [1.65, -0.5334], [1.71, -0.53326], [1.76, -0.53332], [1.82, -0.5332], [1.87, -0.53338], [1.92, -0.53326], [1.97, -0.53334],
  [1.37, -0.53376], [1.44, -0.53384], [1.5, -0.5337], [1.56, -0.53386], [1.62, -0.53374], [1.68, -0.5339], [1.73, -0.53376], [1.79, -0.53382], [1.84, -0.5337], [1.89, -0.53388], [1.94, -0.53376], [1.99, -0.53384],
  [1.33, -0.53428], [1.4, -0.53436], [1.46, -0.5342], [1.52, -0.53434], [1.58, -0.53424], [1.64, -0.5344], [1.7, -0.53426], [1.75, -0.53432], [1.81, -0.5342], [1.86, -0.53438], [1.91, -0.53426], [1.96, -0.53434], [2.0, -0.53424],
  [1.36, -0.53478], [1.43, -0.53486], [1.49, -0.5347], [1.55, -0.53484], [1.61, -0.53476], [1.67, -0.5349], [1.72, -0.53474], [1.78, -0.53482], [1.83, -0.5347], [1.88, -0.53488], [1.93, -0.53476], [1.98, -0.53484],
  [1.31, -0.5357], [1.38, -0.53528], [1.45, -0.53536], [1.51, -0.5352], [1.57, -0.53534], [1.63, -0.53524], [1.69, -0.5354], [1.74, -0.53526], [1.8, -0.53532], [1.85, -0.5352], [1.9, -0.53538], [1.95, -0.53526], [1.99, -0.53534],
  [1.34, -0.53578], [1.41, -0.53586], [1.47, -0.5357], [1.53, -0.53584], [1.59, -0.53576], [1.65, -0.5359], [1.71, -0.53574], [1.76, -0.53582], [1.82, -0.5357], [1.87, -0.53588], [1.92, -0.53576], [1.97, -0.53584],
  [1.38, -0.53628], [1.44, -0.53636], [1.5, -0.5362], [1.56, -0.53634], [1.62, -0.53624], [1.68, -0.5364], [1.73, -0.53626], [1.79, -0.53632], [1.84, -0.5362], [1.89, -0.53638], [1.94, -0.53626], [1.99, -0.53634],
];
const cInsetOthersMore: Pt[] = [
  [1.46, -0.53045], [1.52, -0.53052], [1.58, -0.5304], [1.63, -0.5305], [1.69, -0.53044], [1.74, -0.53054], [1.79, -0.53042], [1.85, -0.5305], [1.9, -0.53046], [1.95, -0.53054], [1.99, -0.53042],
  [1.43, -0.53102], [1.49, -0.5311], [1.55, -0.53098], [1.61, -0.53108], [1.66, -0.53102], [1.72, -0.53112], [1.77, -0.531], [1.83, -0.53108], [1.88, -0.53102], [1.93, -0.5311], [1.98, -0.531],
  [1.41, -0.53152], [1.47, -0.5316], [1.53, -0.53148], [1.59, -0.53158], [1.64, -0.53152], [1.7, -0.53162], [1.75, -0.5315], [1.81, -0.53158], [1.86, -0.53152], [1.91, -0.5316], [1.96, -0.5315], [2.0, -0.53158],
  [1.39, -0.53202], [1.45, -0.5321], [1.51, -0.53198], [1.57, -0.53208], [1.63, -0.53202], [1.69, -0.53212], [1.74, -0.532], [1.8, -0.53208], [1.85, -0.53202], [1.9, -0.5321], [1.96, -0.532], [2.0, -0.53208],
  [1.34, -0.53252], [1.41, -0.5326], [1.48, -0.53248], [1.54, -0.53258], [1.6, -0.53252], [1.66, -0.53262], [1.71, -0.5325], [1.77, -0.53258], [1.82, -0.53252], [1.87, -0.5326], [1.92, -0.5325], [1.97, -0.53258],
  [1.41, -0.53302], [1.48, -0.5331], [1.54, -0.53298], [1.6, -0.53308], [1.66, -0.53302], [1.71, -0.53312], [1.77, -0.533], [1.82, -0.53308], [1.87, -0.53302], [1.92, -0.5331], [1.97, -0.533],
  [1.38, -0.53352], [1.44, -0.5336], [1.5, -0.53348], [1.56, -0.53358], [1.62, -0.53352], [1.68, -0.53362], [1.74, -0.5335], [1.79, -0.53358], [1.84, -0.53352], [1.9, -0.5336], [1.95, -0.5335], [2.0, -0.53358],
  [1.36, -0.53402], [1.42, -0.5341], [1.48, -0.53398], [1.55, -0.53408], [1.61, -0.53402], [1.67, -0.53412], [1.72, -0.534], [1.78, -0.53408], [1.83, -0.53402], [1.88, -0.5341], [1.93, -0.534], [1.98, -0.53408],
  [1.38, -0.53452], [1.44, -0.5346], [1.5, -0.53448], [1.56, -0.53458], [1.62, -0.53452], [1.68, -0.53462], [1.74, -0.5345], [1.79, -0.53458], [1.84, -0.53452], [1.9, -0.5346], [1.95, -0.5345], [2.0, -0.53458],
  [1.34, -0.53502], [1.41, -0.5351], [1.47, -0.53498], [1.53, -0.53508], [1.59, -0.53502], [1.65, -0.53512], [1.71, -0.535], [1.77, -0.53508], [1.82, -0.53502], [1.87, -0.5351], [1.93, -0.535], [1.98, -0.53508],
  [1.36, -0.53552], [1.43, -0.5356], [1.49, -0.53548], [1.55, -0.53558], [1.61, -0.53552], [1.67, -0.53562], [1.73, -0.5355], [1.78, -0.53558], [1.84, -0.53552], [1.89, -0.5356], [1.94, -0.5355], [1.99, -0.53558],
  [1.4, -0.53602], [1.46, -0.5361], [1.52, -0.53598], [1.58, -0.53608], [1.64, -0.53602], [1.7, -0.53612], [1.76, -0.536], [1.81, -0.53608], [1.86, -0.53602], [1.91, -0.5361], [1.96, -0.536], [2.0, -0.53608],
  [1.41, -0.5365], [1.47, -0.53655], [1.53, -0.53646], [1.59, -0.53652], [1.65, -0.53645], [1.71, -0.53656], [1.77, -0.53648], [1.82, -0.53654], [1.88, -0.53646], [1.93, -0.53652], [1.98, -0.53645],
];
const cInsetOthersExtra: Pt[] = [
  [1.47, -0.53033], [1.84, -0.53057], [1.63, -0.53121], [1.94, -0.53088], [1.53, -0.53163], [1.89, -0.53139], [1.71, -0.53197], [1.44, -0.53236],
  [1.97, -0.53207], [1.79, -0.53268], [1.56, -0.53309], [1.91, -0.53331], [1.74, -0.53357], [1.39, -0.53391], [1.86, -0.53409], [1.96, -0.53381],
  [1.61, -0.53455], [1.81, -0.53467], [1.69, -0.53508], [1.42, -0.53545], [1.93, -0.53517], [1.78, -0.53571], [1.58, -0.53596], [1.88, -0.53622],
  [1.51, -0.53659], [1.83, -0.53641], [1.65, -0.53064], [1.92, -0.53171], [1.76, -0.53283], [1.99, -0.53299], [1.72, -0.53426], [1.55, -0.53489],
  [1.47, -0.53482], [1.95, -0.53563], [1.8, -0.53667], [1.86, -0.53003], [1.41, -0.53233], [1.98, -0.53151], [1.45, -0.53561], [1.9, -0.53455],
];
const cInsetDense: Pt[] = [
  [1.4, -0.5367], [1.46, -0.53676], [1.52, -0.53664], [1.58, -0.53674], [1.64, -0.53668], [1.7, -0.53678], [1.75, -0.53666], [1.8, -0.53674], [1.85, -0.53668], [1.9, -0.53676], [1.95, -0.53664], [1.99, -0.5367],
  [1.43, -0.5371], [1.49, -0.53716], [1.55, -0.53706], [1.61, -0.53714], [1.67, -0.53708], [1.72, -0.53718], [1.77, -0.53706], [1.82, -0.53714], [1.87, -0.53708], [1.92, -0.53716], [1.97, -0.53704], [2.0, -0.5371],
  [1.47, -0.5375], [1.53, -0.53756], [1.59, -0.53746], [1.64, -0.53754], [1.69, -0.53748], [1.74, -0.53758], [1.79, -0.53746], [1.84, -0.53754], [1.89, -0.53748], [1.94, -0.53756], [1.99, -0.53748],
  [1.51, -0.5379], [1.56, -0.53796], [1.61, -0.53786], [1.66, -0.53794], [1.71, -0.53788], [1.76, -0.53796], [1.81, -0.53786], [1.86, -0.53794], [1.91, -0.53788], [1.96, -0.53796], [2.0, -0.5379],
  [1.55, -0.5383], [1.6, -0.53836], [1.65, -0.53828], [1.7, -0.53836], [1.75, -0.5383], [1.8, -0.53836], [1.85, -0.53828], [1.9, -0.53836], [1.95, -0.5383], [2.0, -0.53834],
  [1.6, -0.53862], [1.65, -0.53868], [1.7, -0.53864], [1.75, -0.53868], [1.8, -0.53862], [1.85, -0.53868], [1.9, -0.53864], [1.95, -0.53868], [2.0, -0.53862],
];
const cInsetBest99: Pt[] = [[1.61, -0.53882], [1.72, -0.53885], [1.735, -0.5389], [1.75, -0.53886], [1.765, -0.5389], [1.79, -0.53884], [1.86, -0.53885]];
const cInsetBest: Pt[] = [[1.998, -0.5393]];

// ---------- rendering helpers ----------
const toObj = (a: Pt[]) => a.map(([x, y]) => ({ x, y }));

const makeDot = (r: number, color: string) => (props: any) => {
  const { cx, cy } = props;
  if (typeof cx !== 'number' || typeof cy !== 'number') return <g />;
  return <circle cx={cx} cy={cy} r={r} fill={color} />;
};

const StarMark = ({ cx, cy }: { cx: number; cy: number }) => {
  const s = 4.2;
  const d = s * 0.72;
  return (
    <g stroke="#00ff00" strokeWidth={1.5}>
      <line x1={cx - s} y1={cy} x2={cx + s} y2={cy} />
      <line x1={cx} y1={cy - s} x2={cx} y2={cy + s} />
      <line x1={cx - d} y1={cy - d} x2={cx + d} y2={cy + d} />
      <line x1={cx - d} y1={cy + d} x2={cx + d} y2={cy - d} />
    </g>
  );
};
const starShape = (props: any) => {
  const { cx, cy } = props;
  if (typeof cx !== 'number' || typeof cy !== 'number') return <g />;
  return <StarMark cx={cx} cy={cy} />;
};

interface Layer { name: string; data: Pt[]; shape: any }

interface PanelProps {
  box: [number, number, number, number];
  xDomain: [number, number];
  xTicks: number[];
  yDomain: [number, number];
  yTicks: number[];
  fontSize: number;
  tickLen: number;
  xMargin: number;
  yMargin: number;
  layers: Layer[];
  inset?: boolean;
}

function Panel({ box, xDomain, xTicks, yDomain, yTicks, fontSize, tickLen, xMargin, yMargin, layers, inset }: PanelProps) {
  const [l, t, r, b] = box;
  const padL = 80, padT = 10, padR = 12, padB = 40;
  const w = r - l, h = b - t;
  const W = w + padL + padR, H = h + padT + padB;
  const tickStyle = { fill: AX, fontSize, fontFamily: FONT };
  return (
    <div style={{ position: 'absolute', left: l - padL, top: t - padT, width: W, height: H }}>
      {inset && <div style={{ position: 'absolute', left: padL, top: padT, width: w, height: h, background: '#fff' }} />}
      <div style={{ position: 'absolute', left: 0, top: 0 }}>
        <ScatterChart width={W} height={H} margin={{ top: padT, right: padR, bottom: 0, left: 0 }}>
          <XAxis xAxisId="b" type="number" dataKey="x" domain={xDomain} ticks={xTicks} allowDataOverflow interval={0}
            height={padB} tickSize={-tickLen} tickMargin={xMargin} stroke={AX} tick={tickStyle} />
          <XAxis xAxisId="t" orientation="top" mirror type="number" dataKey="x" domain={xDomain} ticks={xTicks} allowDataOverflow
            interval={0} height={0} tickSize={tickLen} tick={false} stroke={AX} />
          <YAxis yAxisId="l" type="number" dataKey="y" domain={yDomain} ticks={yTicks} allowDataOverflow interval={0}
            width={padL} tickSize={-tickLen} tickMargin={yMargin} stroke={AX} tick={tickStyle} />
          <YAxis yAxisId="r" orientation="right" mirror type="number" dataKey="y" domain={yDomain} ticks={yTicks} allowDataOverflow
            interval={0} width={0} tickSize={tickLen} tick={false} stroke={AX} />
          {layers.map((ly) => (
            <Scatter key={ly.name} name={ly.name} xAxisId="b" yAxisId="l" data={toObj(ly.data)} shape={ly.shape} isAnimationActive={false} />
          ))}
        </ScatterChart>
      </div>
    </div>
  );
}

const layersFor = (others: Pt[], dense: Pt[], best99: Pt[], best: Pt[], rO: number, rD: number): Layer[] => [
  { name: 'others', data: others, shape: makeDot(rO, '#000') },
  { name: 'dense', data: dense, shape: makeDot(rD, '#000') },
  { name: 'best99', data: best99, shape: makeDot(2.2, '#ff0000') },
  { name: 'best', data: best, shape: starShape },
];

function LegendBox({ left, top }: { left: number; top: number }) {
  const rows = [13, 36, 59];
  return (
    <svg style={{ position: 'absolute', left, top }} width={160} height={73}>
      <rect x={0.5} y={0.5} width={158} height={71} fill="#fff" stroke="#3a3a3a" strokeWidth={1} />
      <circle cx={22} cy={rows[0]} r={1.5} fill="#000" />
      <circle cx={22} cy={rows[1]} r={1.8} fill="#ff0000" />
      <StarMark cx={22} cy={rows[2]} />
      {legendLabels.map((txt, i) => (
        <text key={txt} x={i === 2 ? 49 : 44} y={rows[i]} dy="0.36em" fontSize={17.5} fontFamily={FONT} fill="#000">{txt}</text>
      ))}
    </svg>
  );
}

function Texts() {
  const lab = { fontFamily: FONT, fontSize: 19, fill: AX };
  const cap = { fontFamily: CAPFONT, fontStyle: 'italic' as const, fontSize: 22, fill: '#44546A' };
  return (
    <svg width={1136} height={862} style={{ position: 'absolute', left: 0, top: 0, pointerEvents: 'none' }}>
      <text x={283} y={373} textAnchor="middle" {...lab}>
        CEM<tspan fontSize={13.5} dy={5}>Moyen</tspan><tspan dy={-5}>{'\u00A0(Nm) à 3x14,17 Arms'}</tspan>
      </text>
      <text x={888} y={381} textAnchor="middle" {...lab}>Linéarité de Lq (%)</text>
      <text x={585} y={827} textAnchor="middle" {...lab}>Ondulation Maximale (%)</text>
      <text transform="translate(22,174) rotate(-90)" textAnchor="middle" dy="0.36em" {...lab}>{yLabel}</text>
      <text transform="translate(624,177) rotate(-90)" textAnchor="middle" dy="0.36em" {...lab}>{yLabel}</text>
      <text transform="translate(323,621) rotate(-90)" textAnchor="middle" dy="0.36em" {...lab}>{yLabel}</text>
      <text x={273} y={418} textAnchor="middle" textLength={528} lengthAdjust="spacingAndGlyphs" {...cap}>{captions[0]}</text>
      <text x={273} y={448} textAnchor="middle" textLength={122} lengthAdjust="spacingAndGlyphs" {...cap}>{captions[1]}</text>
      <text x={877} y={418} textAnchor="middle" textLength={512} lengthAdjust="spacingAndGlyphs" {...cap}>{captions[2]}</text>
      <text x={618} y={855} textAnchor="middle" textLength={621} lengthAdjust="spacingAndGlyphs" {...cap}>{captions[3]}</text>
    </svg>
  );
}

export default function App() {
  const mainFont = 19, insetFont = 15;
  return (
    <div style={{ position: 'absolute', left: 0, top: 0, width: 1136, height: 862, background: '#fff', overflow: 'hidden' }}>
      <Panel box={[82, 22, 484, 326]} xDomain={[20, 26]} xTicks={aXTicks} yDomain={[-50, 1350]} yTicks={mainYTicks}
        fontSize={mainFont} tickLen={5} xMargin={15} yMargin={10}
        layers={layersFor([...aOthers, ...aOthersMore], aDense, aBest99, aBest, 1.5, 2.1)} />
      <Panel box={[149, 30, 358, 178]} xDomain={[23, 25]} xTicks={aInsetXTicks} yDomain={[-0.54, -0.53]} yTicks={insetYTicks}
        fontSize={insetFont} tickLen={3} xMargin={14.5} yMargin={10} inset
        layers={layersFor([...aInsetOthers, ...aInsetOthersMore, ...aInsetOthersExtra], aInsetDense, aInsetBest99, aInsetBest, 1.5, 3.4)} />

      <Panel box={[686, 21, 1091, 333]} xDomain={[5, 30]} xTicks={bXTicks} yDomain={[-50, 1350]} yTicks={mainYTicks}
        fontSize={mainFont} tickLen={5} xMargin={15} yMargin={10}
        layers={layersFor([...bOthers, ...bOthersMore], bDense, bBest99, bBest, 1.5, 1.9)} />
      <Panel box={[872, 32, 1085, 180]} xDomain={[8, 15]} xTicks={bInsetXTicks} yDomain={[-0.54, -0.53]} yTicks={insetYTicks}
        fontSize={insetFont} tickLen={3} xMargin={14.5} yMargin={10} inset
        layers={layersFor([...bInsetOthers, ...bInsetOthersMore, ...bInsetOthersExtra], bInsetDense, bInsetBest99, bInsetBest, 1.5, 3.4)} />

      <Panel box={[383, 466, 788, 777]} xDomain={[0, 4]} xTicks={cXTicks} yDomain={[-50, 1350]} yTicks={mainYTicks}
        fontSize={mainFont} tickLen={5} xMargin={15} yMargin={10}
        layers={layersFor([...cOthers, ...cOthersMore], cDense, cBest99, cBest, 1.5, 2)} />
      <Panel box={[539, 473, 766, 621]} xDomain={[1, 2.5]} xTicks={cInsetXTicks} yDomain={[-0.54, -0.53]} yTicks={insetYTicks}
        fontSize={insetFont} tickLen={3} xMargin={14.5} yMargin={10} inset
        layers={layersFor([...cInsetOthers, ...cInsetOthersMore, ...cInsetOthersExtra], cInsetDense, cInsetBest99, cInsetBest, 1.5, 3.4)} />

      <LegendBox left={344} top={205} />
      <LegendBox left={702} top={199} />
      <LegendBox left={389} top={648} />
      <Texts />
    </div>
  );
}
